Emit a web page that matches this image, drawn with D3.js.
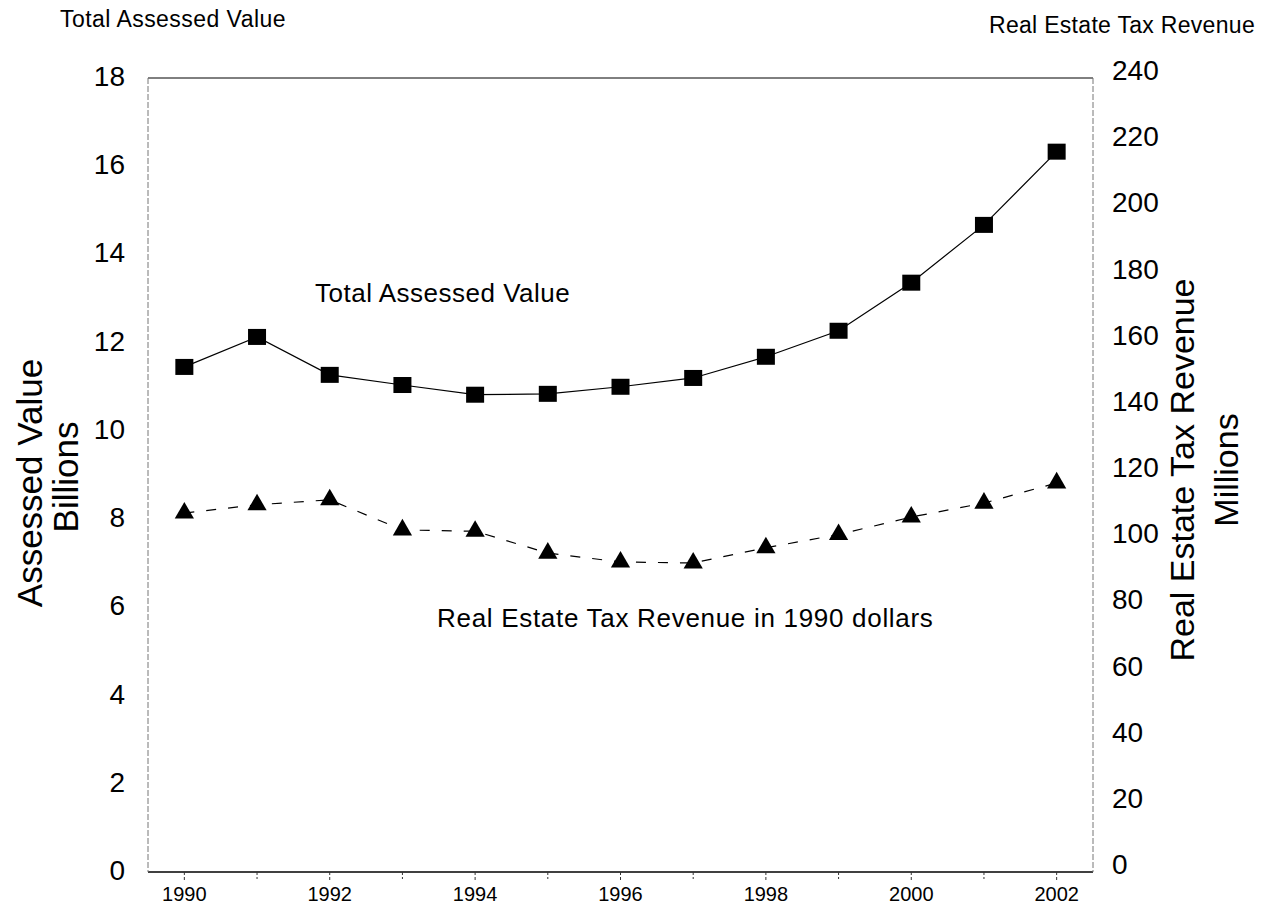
<!DOCTYPE html>
<html><head><meta charset="utf-8">
<script src="https://cdn.jsdelivr.net/npm/d3@7"></script>
<style>body{margin:0;background:#fff}svg{font-family:"Liberation Sans",Arial,sans-serif}</style>
</head><body><svg id="c" width="1267" height="907"></svg>
<script>
const years = [1990,1991,1992,1993,1994,1995,1996,1997,1998,1999,2000,2001,2002];
const assessedValue = [11.45,12.13,11.27,11.04,10.82,10.84,11.0,11.2,11.68,12.27,13.36,14.67,16.33];
const taxRevenue = [108.5,111,112.5,103.4,103,96.4,93.7,93.4,98,102,107.3,111.5,117.6];
const leftTicks = [0,2,4,6,8,10,12,14,16,18];
const rightTicks = [0,20,40,60,80,100,120,140,160,180,200,220,240];
const xTickLabels = [1990,1992,1994,1996,1998,2000,2002];

const svg = d3.select("#c");
const L=148, R=1093, T=78, B=872;
const x = d3.scaleLinear().domain([1989.5,2002.5]).range([L,R]);
const yL = d3.scaleLinear().domain([0,18]).range([B,T]);
const yR = d3.scaleLinear().domain([0,240]).range([B,T]);

// frame
svg.append("line").attr("x1",L).attr("x2",R).attr("y1",T).attr("y2",T).attr("stroke","#000").attr("stroke-width",1);
svg.append("line").attr("x1",L).attr("x2",R).attr("y1",B).attr("y2",B).attr("stroke","#000").attr("stroke-width",1.5);
svg.append("line").attr("x1",L).attr("x2",L).attr("y1",T).attr("y2",B).attr("stroke","#777").attr("stroke-width",1).attr("stroke-dasharray","6,2");
svg.append("line").attr("x1",R).attr("x2",R).attr("y1",T).attr("y2",B).attr("stroke","#777").attr("stroke-width",1).attr("stroke-dasharray","6,2");

// bottom ticks
svg.append("g").selectAll("line").data(years).join("line")
  .attr("x1",d=>x(d)).attr("x2",d=>x(d)).attr("y1",B).attr("y2",d=>B+(d%2===0?10:7))
  .attr("stroke","#333").attr("stroke-width",1).attr("stroke-dasharray","3,2");
svg.append("g").selectAll("text").data(xTickLabels).join("text")
  .attr("x",d=>x(d)).attr("y",901).attr("text-anchor","middle").attr("font-size",20).text(d=>d);

// left labels
svg.append("g").selectAll("text").data(leftTicks).join("text")
  .attr("x",125).attr("y",d=>yL(d)+8).attr("text-anchor","end").attr("font-size",28).text(d=>d);
// right labels
svg.append("g").selectAll("text").data(rightTicks).join("text")
  .attr("x",1112).attr("y",d=>yR(d)+2).attr("text-anchor","start").attr("font-size",28).text(d=>d);

// axis titles
svg.append("text").attr("transform","translate(42,483) rotate(-90)").attr("text-anchor","middle").attr("font-size",35).text("Assessed Value");
svg.append("text").attr("transform","translate(78,477) rotate(-90)").attr("text-anchor","middle").attr("font-size",35).text("Billions");
svg.append("text").attr("transform","translate(1194,470) rotate(-90)").attr("text-anchor","middle").attr("font-size",34).text("Real Estate Tax Revenue");
svg.append("text").attr("transform","translate(1238,470) rotate(-90)").attr("text-anchor","middle").attr("font-size",34).text("Millions");

// top titles
svg.append("text").attr("x",60).attr("y",27).attr("font-size",23).attr("letter-spacing",0.45).text("Total Assessed Value");
svg.append("text").attr("x",1255).attr("y",33).attr("text-anchor","end").attr("font-size",23).attr("letter-spacing",0.3).text("Real Estate Tax Revenue");

// annotations
svg.append("text").attr("x",315).attr("y",302).attr("font-size",26).attr("letter-spacing",0.5).text("Total Assessed Value");
svg.append("text").attr("x",437).attr("y",627).attr("font-size",26).attr("letter-spacing",0.7).text("Real Estate Tax Revenue in 1990 dollars");

// lines
const av = years.map((y,i)=>[y,assessedValue[i]]);
const tr = years.map((y,i)=>[y,taxRevenue[i]]);
svg.append("path").attr("d",d3.line().x(d=>x(d[0])).y(d=>yL(d[1]))(av)).attr("fill","none").attr("stroke","#000").attr("stroke-width",1.2);
svg.append("path").attr("d",d3.line().x(d=>x(d[0])).y(d=>yR(d[1]))(tr)).attr("fill","none").attr("stroke","#000").attr("stroke-width",1.2).attr("stroke-dasharray","10,12");

// markers
svg.append("g").selectAll("rect").data(av).join("rect")
  .attr("x",d=>x(d[0])-9).attr("y",d=>yL(d[1])-8).attr("width",18).attr("height",16).attr("fill","#000");
const tri = d3.symbol().type(d3.symbolTriangle).size(160);
svg.append("g").selectAll("path").data(tr).join("path")
  .attr("transform",d=>`translate(${x(d[0])},${yR(d[1])})`).attr("d",tri).attr("fill","#000");
</script></body></html>
